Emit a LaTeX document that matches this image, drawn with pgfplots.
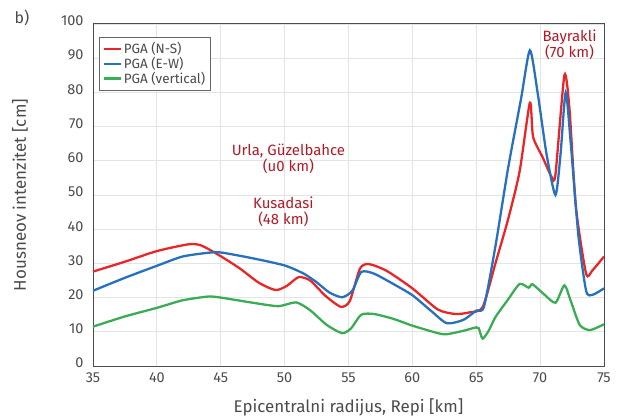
\documentclass[border=0pt]{standalone}
\usepackage{pgfplots}
\pgfplotsset{compat=1.18}
\usepackage{fontspec}
\setmainfont{Fira Sans}
\definecolor{cred}{RGB}{232,38,40}
\definecolor{cblue}{RGB}{38,112,190}
\definecolor{cgreen}{RGB}{58,172,84}
\definecolor{ctext}{RGB}{180,24,36}
\definecolor{cgrid}{RGB}{228,228,228}
\definecolor{ctxt}{RGB}{75,75,75}
\begin{document}
\begin{tikzpicture}
\useasboundingbox (-93bp,-53bp) rectangle (536bp,366bp);
\begin{axis}[
  at={(0,0)}, anchor=south west,
  scale only axis, width=511bp, height=342bp,
  xmin=35, xmax=75, ymin=0, ymax=100,
  xtick={35,40,...,75}, ytick={0,10,...,100},
  major tick length=0pt,
  grid=major, grid style={cgrid, line width=0.8pt},
  axis line style={black!70, line width=1pt},
  tick label style={font=\fontsize{14.5}{16}\selectfont, text=ctxt},
  /pgf/number format/assume math mode=true,
  xticklabel style={yshift=-3bp},
  yticklabel style={xshift=-6bp, yshift=3bp},
  xlabel={Epicentralni radijus, Repi [km]},
  ylabel={Housneov intenzitet [cm]},
  label style={font=\fontsize{17}{19}\selectfont, text=ctxt},
  xlabel style={at={(axis description cs:0.5,0)}, yshift=-41bp, anchor=center},
  ylabel style={at={(axis description cs:0,0.5)}, yshift=73bp, anchor=center},
  legend style={at={(0.012,0.962)}, anchor=north west, draw=black!60, line width=0.8pt,
    font=\fontsize{13.5}{15}\selectfont, row sep=-2pt, inner sep=3pt, text=ctxt},
  legend cell align=left,
  every axis plot/.append style={line width=2.3pt, smooth, tension=0.4},
]
\addplot[cred] coordinates {
(35,27.6) (37.5,30.5) (40,33.6) (42.5,35.6) (43.5,35.2) (45,32.1) (46.5,28.5)
(48,24.3) (49.3,22.2) (50.2,23.5) (51.1,26.0) (52,25.0) (53.2,20.5) (54.4,17.3)
(55.1,19) (55.9,28.5) (56.6,29.8) (58,27.8) (60,22.7) (62,16.5) (63.4,15.2)
(64.5,15.7) (65.5,17.2) (66.5,30) (67.5,43) (68.4,57) (69.2,77) (69.45,67)
(70.2,61) (70.9,55.3) (71.2,56) (71.9,85) (72.3,75) (72.8,46.5) (73.6,27)
(74.1,28) (75,32)};
\addlegendentry{PGA (N-S)}
\addplot[cblue] coordinates {
(35,22) (37.5,25.8) (40,29.3) (42,32) (44,33.1) (45,33.2) (47.5,31.5) (50,29.4)
(51.5,27) (52.5,24.5) (53.5,21.5) (54.5,20.1) (55.3,22) (56,27.5) (57,27)
(58.5,24) (60,20.7) (61.5,16) (62.7,12.5) (64,13.5) (65,16.2) (65.6,17.3)
(66.5,35) (67.5,58) (68.5,78) (69.2,92.3) (69.8,80) (70.5,62) (71.2,50)
(71.6,62) (72,80) (72.4,65) (73,38) (73.6,22) (74.1,20.8) (75,22.7)};
\addlegendentry{PGA (E-W)}
\addplot[cgreen] coordinates {
(35,11.5) (37.5,14.5) (40,17) (42,19.2) (44,20.3) (45,20) (47.5,18.5) (49.5,17.5)
(50.9,18.6) (52,16.3) (53.3,12) (54.5,9.6) (55.2,11) (56,15) (57,15.2) (58.5,13.8)
(60,11.8) (62,9.6) (62.7,9.3) (64,10.3) (65,11.3) (65.2,11) (65.5,8) (66,10.5)
(66.5,14.3) (67.5,19.5) (68.4,24) (69.1,22.9) (69.4,23.9) (70.3,21) (71.2,18.5)
(71.9,23.6) (72.4,19) (73.1,12) (73.9,10.5) (75,12.2)};
\addlegendentry{PGA (vertical)}
\node[text=ctext, align=center, font=\fontsize{15}{16}\selectfont] at (axis cs:50.3,60.5) {Urla, Güzelbahce\\(u0 km)};
\node[text=ctext, align=center, font=\fontsize{15}{16}\selectfont] at (axis cs:49.9,45) {Kusadasi\\(48 km)};
\node[text=ctext, align=center, font=\fontsize{15}{16}\selectfont] at (axis cs:72.3,94) {Bayrakli\\(70 km)};
\end{axis}
\node[font=\fontsize{16}{18}\selectfont, text=ctxt] at (-71bp,348bp) {b)};
\end{tikzpicture}
\end{document}
